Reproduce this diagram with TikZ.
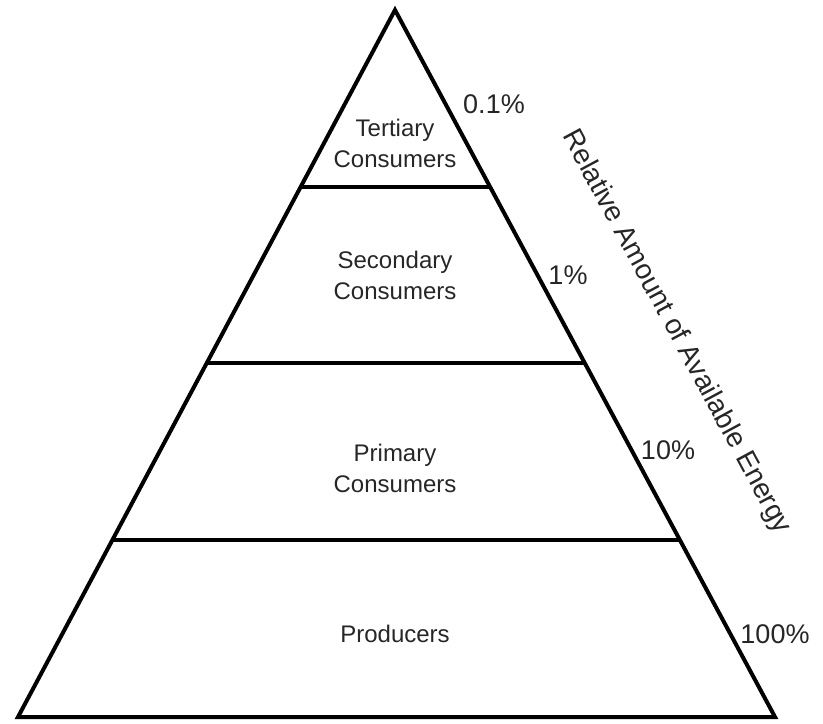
\documentclass[tikz,border=0pt]{standalone}
\usepackage{fontspec}
\setmainfont{Liberation Sans}
\usepackage{tikz}
\usetikzlibrary{calc,positioning}

\begin{document}
\begin{tikzpicture}[
        x=0.5pt, y=0.5pt,
        edge/.style={line width=2pt, line join=miter},
        tier/.style={align=center, font=\fontsize{12}{15.5}\selectfont, text=black!85, inner sep=0pt},
        pct/.style={font=\fontsize{13.5}{16}\selectfont, text=black!85, inner sep=0pt}
    ]
        \useasboundingbox (0,0) rectangle (823,723);

        % Pyramid
        \coordinate (apex) at (395,713);
        \coordinate (bl) at (18,6);
        \coordinate (br) at (775,6);
        \draw[edge] (apex) -- (br) -- (bl) -- cycle;

        % Levels
        \foreach \t/\n in {0.25/a, 0.5/b, 0.75/c} {
            \coordinate (l\n) at ($(apex)!\t!(bl)$);
            \coordinate (r\n) at ($(apex)!\t!(br)$);
            \draw[edge] (l\n) -- (r\n);
        }

        % Tier labels
        \node[tier] (tertiary) at (395,580) {Tertiary\\Consumers};
        \node[tier] (secondary) at (395,448) {Secondary\\Consumers};
        \node[tier] (primary) at (395,255) {Primary\\Consumers};
        \node[tier] (producers) at (395,89) {Producers};

        % Percentages
        \node[pct] (p01) at (494,619) {0.1\%};
        \node[pct] (p1) at (568,448) {1\%};
        \node[pct] (p10) at (668,273) {10\%};
        \node[pct] (p100) at (775,89) {100\%};

        % Axis label
        \node[pct, font=\fontsize{14}{16}\selectfont, rotate=-61.7] (energy) at (676,391) {Relative Amount of Available Energy};

    \end{tikzpicture}
\end{document}
